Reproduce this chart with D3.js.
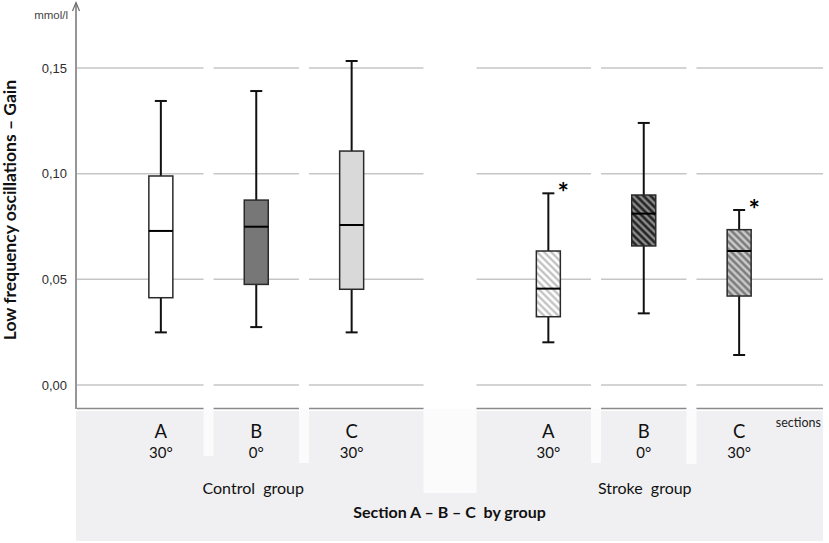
<!DOCTYPE html>
<html>
<head>
<meta charset="utf-8">
<script src="https://cdn.jsdelivr.net/npm/d3@7"></script>
<style>
  body { margin: 0; background: #fff; }
  svg { display: block; }
</style>
</head>
<body>
<div id="chart"></div>
<script>
// the numbers
var groups = ["Control group", "Stroke group"];
var sections = ["A", "B", "C"];
var angles = ["30°", "0°", "30°"];
var whiskerLow = [0.0249, 0.0274, 0.0249, 0.0202, 0.0339, 0.0142];
var q1 = [0.0413, 0.0476, 0.0453, 0.0323, 0.0658, 0.0421];
var medians = [0.0729, 0.0749, 0.0757, 0.0456, 0.0811, 0.0634];
var q3 = [0.0989, 0.0875, 0.1107, 0.0634, 0.0899, 0.0735];
var whiskerHigh = [0.1344, 0.1391, 0.1533, 0.0907, 0.1240, 0.0828];
var starred = [false, false, false, true, false, true];
var yTicks = [0, 0.05, 0.10, 0.15];

var svgWidth = 829;
var svgHeight = 543;
var font = "Lato, 'Open Sans', sans-serif";

var svg = d3.select("#chart")
    .append("svg")
    .attr("width", svgWidth)
    .attr("height", svgHeight);

// hatch patterns for the stroke group boxes
var defs = svg.append("defs");
function hatch(id, bg, line, w) {
    var p = defs.append("pattern")
        .attr("id", id)
        .attr("patternUnits", "userSpaceOnUse")
        .attr("width", 5)
        .attr("height", 5)
        .attr("patternTransform", "rotate(-45)");
    p.append("rect").attr("width", 5).attr("height", 5).attr("fill", bg);
    p.append("line")
        .attr("x1", 1.5).attr("y1", 0).attr("x2", 1.5).attr("y2", 5)
        .attr("stroke", line).attr("stroke-width", w);
}
hatch("hatchLight", "#ffffff", "#b8b8b8", 2);
hatch("hatchDark", "#8c8c8c", "#1c1c1c", 2.4);
hatch("hatchMid", "#7c7c7c", "#d4d4d4", 2.2);

var fills = ["#ffffff", "#777777", "#d9d9d9", "url(#hatchLight)", "url(#hatchDark)", "url(#hatchMid)"];

// scales
var y = d3.scaleLinear().domain([0, 0.15]).range([385, 68]);
var xGroup = d3.scalePoint().domain(groups).range([77, 823]).padding(0.4626);
var xSection = d3.scalePoint().domain(sections).range([-95.4, 95.4]);

var boxes = [];
groups.forEach(function(g, gi) {
    sections.forEach(function(s, si) {
        var i = gi * 3 + si;
        boxes.push({
            group: g, section: s, angle: angles[si],
            lo: whiskerLow[i], q1: q1[i], med: medians[i], q3: q3[i], hi: whiskerHigh[i],
            star: starred[i], fill: fills[i],
            x: xGroup(g) + xSection(s)
        });
    });
});

// white gaps between the cells (wide one between the groups)
var gaps = [];
var notchBottom = [456, 463, 493, 463, 464];
for (var i = 0; i < boxes.length - 1; i++) {
    var same = boxes[i].group === boxes[i + 1].group;
    var mid = (boxes[i].x + boxes[i + 1].x) / 2;
    var w = same ? 10 : 53;
    gaps.push({ x0: mid - w / 2, x1: mid + w / 2, bottom: notchBottom[i] });
}
var cells = [];
var left = 77;
gaps.forEach(function(g) {
    cells.push([left, g.x0]);
    left = g.x1;
});
cells.push([left, 823]);

// grey band under the axis
svg.append("rect")
    .attr("x", 76).attr("y", 411)
    .attr("width", 823 - 76).attr("height", 130)
    .attr("fill", "#f0f0f2");
svg.selectAll(".notch")
    .data(gaps)
    .enter()
    .append("rect")
    .attr("x", d => d.x0)
    .attr("y", 409)
    .attr("width", d => d.x1 - d.x0)
    .attr("height", d => d.bottom - 409)
    .attr("fill", "#fbfbfc");

// grid lines, broken at the gaps
yTicks.forEach(function(t) {
    svg.append("g").selectAll("line")
        .data(cells)
        .enter()
        .append("line")
        .attr("x1", d => d[0]).attr("x2", d => d[1])
        .attr("y1", y(t)).attr("y2", y(t))
        .attr("stroke", "#c6c6c6")
        .attr("stroke-width", 1.5);
});
// bottom axis line, also broken
svg.append("g").selectAll("line")
    .data(cells)
    .enter()
    .append("line")
    .attr("x1", d => d[0]).attr("x2", d => d[1])
    .attr("y1", 408.5).attr("y2", 408.5)
    .attr("stroke", "#8a8a8a")
    .attr("stroke-width", 1.5);

// y axis with arrow
var yAxis = d3.axisLeft(y).tickValues(yTicks).tickSize(0).tickPadding(9)
    .tickFormat(d => d3.format(".2f")(d).replace(".", ","));
var yg = svg.append("g")
    .attr("transform", "translate(76,0)")
    .call(yAxis);
yg.select(".domain").remove();
yg.selectAll("text")
    .attr("font-family", "'Liberation Sans', Arial, sans-serif")
    .attr("font-size", 13)
    .attr("fill", "#2e2e2e");
svg.append("line")
    .attr("x1", 76).attr("x2", 76).attr("y1", 3).attr("y2", 409)
    .attr("stroke", "#6a6a6a").attr("stroke-width", 1.4);
svg.append("path")
    .attr("d", "M72.5,11 L76,2.5 L79.5,11")
    .attr("fill", "none").attr("stroke", "#6a6a6a").attr("stroke-width", 1.2);
svg.append("text")
    .attr("x", 68).attr("y", 19)
    .attr("text-anchor", "end")
    .attr("font-family", "'Liberation Sans', Arial, sans-serif")
    .attr("font-size", 11.5)
    .attr("fill", "#444")
    .text("mmol/l");

// y title
svg.append("text")
    .attr("transform", "translate(16,210) rotate(-90)")
    .attr("text-anchor", "middle")
    .attr("font-family", font)
    .attr("font-weight", "bold")
    .attr("font-size", 17.5)
    .attr("fill", "#111")
    .text("Low frequency oscillations – Gain");

// the box plots
var bw = 24;
var capW = 12;
var bx = svg.append("g").selectAll("g")
    .data(boxes)
    .enter()
    .append("g");
bx.append("line")
    .attr("x1", d => d.x).attr("x2", d => d.x)
    .attr("y1", d => y(d.lo)).attr("y2", d => y(d.hi))
    .attr("stroke", "#111").attr("stroke-width", 2);
bx.append("line")
    .attr("x1", d => d.x - capW / 2).attr("x2", d => d.x + capW / 2)
    .attr("y1", d => y(d.hi)).attr("y2", d => y(d.hi))
    .attr("stroke", "#111").attr("stroke-width", 2);
bx.append("line")
    .attr("x1", d => d.x - capW / 2).attr("x2", d => d.x + capW / 2)
    .attr("y1", d => y(d.lo)).attr("y2", d => y(d.lo))
    .attr("stroke", "#111").attr("stroke-width", 2);
bx.append("rect")
    .attr("x", d => d.x - bw / 2)
    .attr("y", d => y(d.q3))
    .attr("width", bw)
    .attr("height", d => y(d.q1) - y(d.q3))
    .attr("fill", d => d.fill)
    .attr("stroke", "#2a2a2a")
    .attr("stroke-width", 1.5);
bx.append("line")
    .attr("x1", d => d.x - bw / 2).attr("x2", d => d.x + bw / 2)
    .attr("y1", d => y(d.med)).attr("y2", d => y(d.med))
    .attr("stroke", "#000").attr("stroke-width", 2);
// the asterisks next to the significant ones
bx.filter(d => d.star)
    .append("text")
    .attr("x", d => d.x + 15)
    .attr("y", d => y(d.hi) + 9)
    .attr("text-anchor", "middle")
    .attr("font-family", font)
    .attr("font-weight", "bold")
    .attr("font-size", 27)
    .attr("fill", "#000")
    .text("*");

// section and angle labels
var lab = svg.append("g").selectAll("g")
    .data(boxes)
    .enter()
    .append("g")
    .attr("font-family", font)
    .attr("text-anchor", "middle")
    .attr("fill", "#111");
lab.append("text")
    .attr("x", d => d.x).attr("y", 437.5)
    .attr("font-size", 18.5)
    .text(d => d.section);
lab.append("text")
    .attr("x", d => d.x).attr("y", 457.5)
    .attr("font-size", 15)
    .text(d => d.angle);

svg.append("g").selectAll("text")
    .data(groups)
    .enter()
    .append("text")
    .attr("x", d => xGroup(d) - 3 + (d === groups[1] ? 4 : 0))
    .attr("y", 494)
    .attr("text-anchor", "middle")
    .attr("font-family", font)
    .attr("font-size", 16)
    .attr("fill", "#111")
    .style("white-space", "pre")
    .text(d => d.replace(" ", "  "));

svg.append("text")
    .attr("x", 449.5).attr("y", 517.5)
    .attr("text-anchor", "middle")
    .attr("font-family", font)
    .attr("font-weight", "bold")
    .attr("font-size", 16)
    .attr("fill", "#111")
    .style("white-space", "pre")
    .text("Section A – B – C  by group");

svg.append("text")
    .attr("x", 821).attr("y", 426.5)
    .attr("text-anchor", "end")
    .attr("font-family", font)
    .attr("font-size", 12.5)
    .attr("fill", "#222")
    .text("sections");
</script>
</body>
</html>
